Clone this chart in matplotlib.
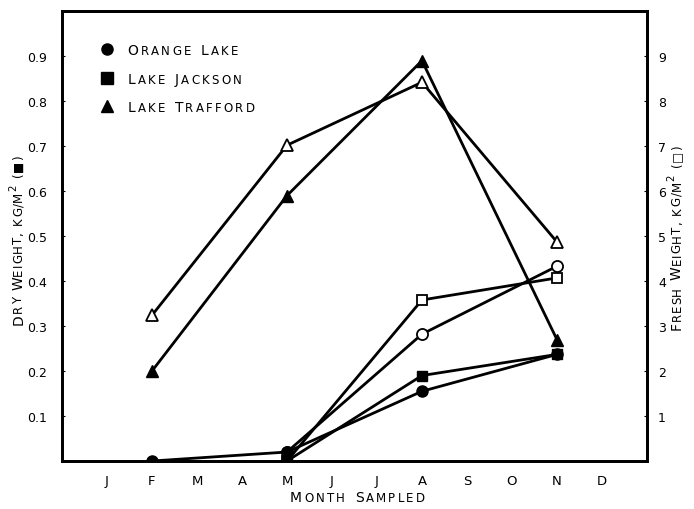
import matplotlib
matplotlib.use('Agg')
import matplotlib.pyplot as plt

plt.rcParams['font.family'] = 'DejaVu Sans'

months = ['J', 'F', 'M', 'A', 'M', 'J', 'J', 'A', 'S', 'O', 'N', 'D']

# month positions (1 = Jan) of each sampling
orange_x = [2, 5, 8, 11]
orange_dry = [0.0, 0.02, 0.155, 0.237]
orange_fresh_x = [5, 8, 11]
orange_fresh = [0.2, 2.82, 4.33]

jackson_x = [5, 8, 11]
jackson_dry = [0.0, 0.19, 0.237]
jackson_fresh = [0.0, 3.58, 4.07]

trafford_x = [2, 5, 8, 11]
trafford_dry = [0.20, 0.59, 0.89, 0.27]
trafford_fresh = [3.24, 7.02, 8.42, 4.87]

legend_names = ['Orange Lake', 'Lake Jackson', 'Lake Trafford']
legend_marks = ['o', 's', '^']


def parse(s):
    # one piece per character: big cap, small cap or superscript
    out = []
    for wi, word in enumerate(s.split(' ')):
        start = wi > 0
        i = 0
        while i < len(word):
            c = word[i]
            if c == '^':
                out.append((word[i + 1], 'sup', start))
                i += 2
            else:
                kind = 'big' if c.isupper() else 'small'
                out.append((c.upper(), kind, start))
                i += 1
            start = False
    return out


fig = plt.figure(figsize=(6.94, 5.10), dpi=100)
renderer = fig.canvas.get_renderer()
PT = fig.dpi / 72.0


def sc_text(x, y, s, big, small, transform, rot=0, track=1.6, wgap=7, center=False):
    # small-caps text laid out letter by letter along its baseline
    inv = fig.transFigure.inverted()
    px, py = transform.transform((x, y))
    if center:
        py -= 0.36 * big * PT
    pos = px if rot == 0 else py
    first = True
    for text, kind, newword in parse(s):
        size = big if kind == 'big' else small
        rise = 0
        if kind == 'sup':
            size = small * 0.85
            rise = 0.45 * big
        if not first:
            if kind == 'sup':
                pos += 0.6 * PT
            else:
                pos += (wgap if newword else track) * PT
        first = False
        if rot == 0:
            fx, fy = inv.transform((pos, py + rise * PT))
        else:
            fx, fy = inv.transform((px - rise * PT, pos))
        t = fig.text(fx, fy, text, fontsize=size, rotation=rot,
                     rotation_mode='anchor', ha='left', va='baseline')
        bb = t.get_window_extent(renderer)
        pos = bb.x1 if rot == 0 else bb.y1


ax = fig.add_axes([0.0893, 0.0941, 0.8429, 0.882])
ax2 = ax.twinx()
ax.set_zorder(2)
ax.patch.set_visible(False)

lw = 2.0
ms = 8
ax.plot(orange_x, orange_dry, '-o', color='black', lw=lw, ms=ms, zorder=3)
ax.plot(jackson_x, jackson_dry, '-s', color='black', lw=lw, ms=ms - 1, zorder=3)
ax.plot(trafford_x, trafford_dry, '-^', color='black', lw=lw, ms=ms + 1, zorder=3)

ax2.plot(orange_fresh_x, orange_fresh, '-o', color='black', mfc='white', mew=1.3, lw=lw, ms=ms)
ax2.plot(jackson_x, jackson_fresh, '-s', color='black', mfc='white', mew=1.3, lw=lw, ms=ms - 1)
ax2.plot(trafford_x, trafford_fresh, '-^', color='black', mfc='white', mew=1.3, lw=lw, ms=ms + 1)

ax.set_xlim(0, 13)
ax.set_ylim(0, 1.0)
ax2.set_ylim(0, 10)
ax.set_xticks(range(1, 13))
ax.set_xticklabels(months)
ax.set_yticks([0.1 * i for i in range(1, 10)])
ax.set_yticklabels(['0.%d' % i for i in range(1, 10)])
ax2.set_yticks(range(1, 10))
ax2.set_yticklabels([str(i) for i in range(1, 10)])

ax.tick_params(axis='x', length=0, pad=9, labelsize=9.5)
ax.tick_params(axis='y', length=2, direction='in', pad=11, labelsize=9)
ax2.tick_params(axis='y', length=2, direction='in', pad=8, labelsize=9)
for a in (ax, ax2):
    for sp in a.spines.values():
        sp.set_linewidth(2)

# legend keys and names
for i, (name, mk) in enumerate(zip(legend_names, legend_marks)):
    yy = 0.915 - i * 0.063
    ax.plot([0.077], [yy], mk, color='black', ms=8, transform=ax.transAxes, clip_on=False)
    sc_text(0.112, yy, name, 10, 8.5, ax.transAxes, center=True)

# axis labels in small caps
sc_text(0.418, 0.015, 'Month Sampled', 10, 8.5, fig.transFigure)
sc_text(0.032, 0.363, 'Dry Weight, kg/m^2 (■)', 10, 8.5, fig.transFigure,
        rot=90, track=0.6, wgap=5)
sc_text(0.981, 0.353, 'Fresh Weight, kg/m^2 (□)', 10, 8.5, fig.transFigure,
        rot=90, track=0.6, wgap=5)

fig.savefig('out.png', dpi=100)
